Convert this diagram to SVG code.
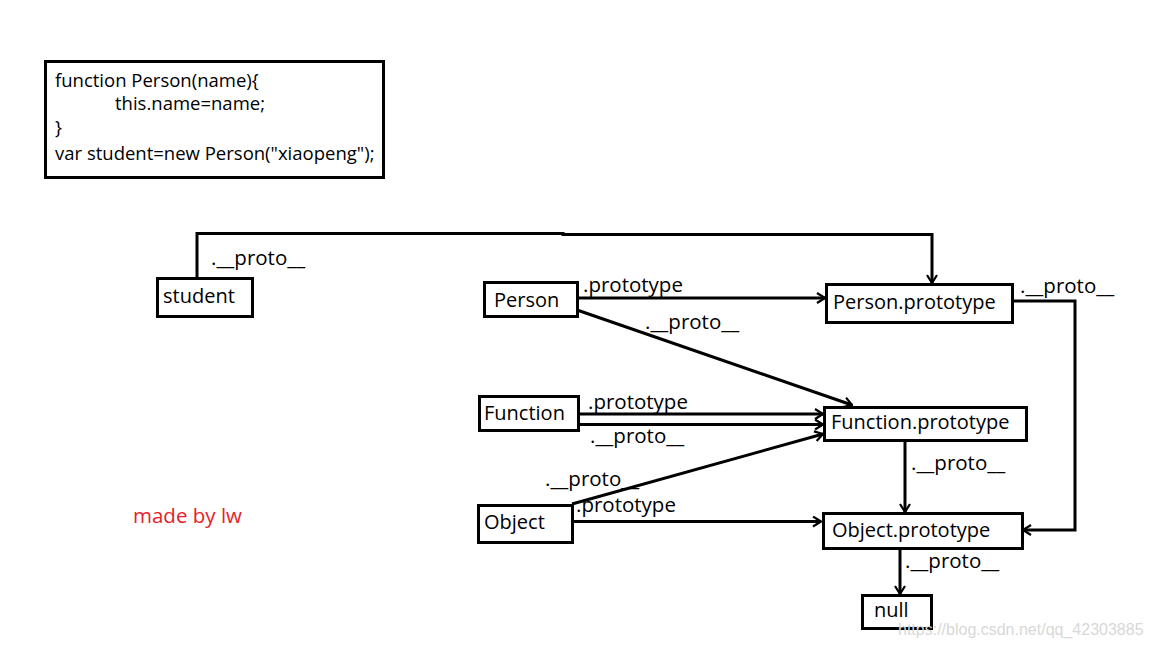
<svg xmlns="http://www.w3.org/2000/svg" width="1152" height="648" viewBox="0 0 1152 648">
<style>
.box{fill:#fff;stroke:#000;stroke-width:3}
.t{font-family:"Open Sans","Noto Sans","Liberation Sans",sans-serif;font-size:20px;fill:#000}
.code{font-family:"Open Sans","Noto Sans","Liberation Sans",sans-serif;font-size:18.5px;fill:#000}
.lbl{font-family:"Open Sans","Noto Sans","Liberation Sans",sans-serif;font-size:20.5px;fill:#000}
.ln{fill:none;stroke:#000;stroke-width:3;marker-end:url(#ah)}
</style>
<defs>
<marker id="ah" viewBox="0 0 12 12" refX="11" refY="6" markerWidth="12" markerHeight="12" markerUnits="userSpaceOnUse" orient="auto">
<path d="M3,1 L11,6 L3,11" fill="none" stroke="#000" stroke-width="2.2"/>
</marker>
</defs>
<rect width="1152" height="648" fill="#fff"/>
<g id="code">
<rect class="box" x="45.5" y="61.5" width="338" height="116"/>
<text class="code" x="55" y="87">function Person(name){</text>
<text class="code" x="115" y="110">this.name=name;</text>
<text class="code" x="55" y="134">}</text>
<text class="code" x="55" y="160">var student=new Person("xiaopeng");</text>
</g>
<g id="connectors">
<path class="ln" d="M197,278 V233.5 H563 V234.5 H932 V283"/>
<text class="lbl" x="211" y="265">.__proto__</text>
<path class="ln" d="M577,298 H825"/>
<text class="lbl" x="583" y="292">.prototype</text>
<path class="ln" d="M577,310 L852,405"/>
<text class="lbl" x="645" y="329">.__proto__</text>
<path class="ln" d="M1012,301 H1075 V530 H1023"/>
<text class="lbl" x="1020" y="293">.__proto__</text>
<path class="ln" d="M578,414 H823"/>
<path class="ln" d="M578,424.5 H823"/>
<text class="lbl" x="588" y="409">.prototype</text>
<text class="lbl" x="590" y="443">.__proto__</text>
<path class="ln" d="M572,504 L823,434"/>
<text class="lbl" x="545" y="486">.__proto__</text>
<path class="ln" d="M572,521.5 H821"/>
<text class="lbl" x="576" y="512">.prototype</text>
<path class="ln" d="M905,440 V512"/>
<text class="lbl" x="911" y="470">.__proto__</text>
<path class="ln" d="M900,548 V594"/>
<text class="lbl" x="905" y="568">.__proto__</text>
</g>
<g id="student"><rect class="box" x="157.5" y="278.5" width="95" height="38"/><text class="t" x="163" y="303">student</text></g>
<g id="person"><rect class="box" x="484.5" y="282.5" width="93" height="34"/><text class="t" x="494" y="307">Person</text></g>
<g id="person-prototype"><rect class="box" x="826.5" y="284.5" width="186" height="38"/><text class="t" x="833" y="309">Person.prototype</text></g>
<g id="function"><rect class="box" x="479.5" y="396.5" width="99" height="34"/><text class="t" x="484" y="420">Function</text></g>
<g id="function-prototype"><rect class="box" x="824.5" y="407.5" width="202" height="33"/><text class="t" x="831" y="429">Function.prototype</text></g>
<g id="object"><rect class="box" x="478.5" y="505.5" width="94" height="37"/><text class="t" x="484" y="529">Object</text></g>
<g id="object-prototype"><rect class="box" x="823.5" y="513.5" width="199" height="35"/><text class="t" x="832" y="537">Object.prototype</text></g>
<g id="null"><rect class="box" x="862.5" y="595.5" width="69" height="33"/><text class="t" x="874" y="617">null</text></g>
<text x="133" y="523" font-family="'Open Sans','Noto Sans','Liberation Sans',sans-serif" font-size="20.5" fill="#e8202a">made by lw</text>
<text x="898" y="635" font-family="'Liberation Sans',Arial,sans-serif" font-size="16" fill="#d8d8d8">https://blog.csdn.net/qq_42303885</text>
</svg>
